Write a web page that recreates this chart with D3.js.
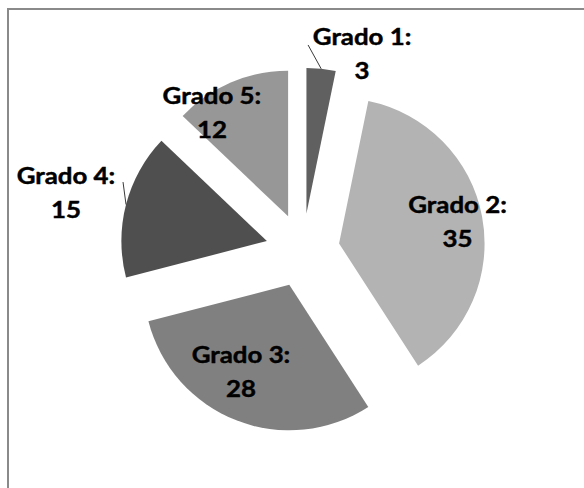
<!DOCTYPE html>
<html>
<head>
<meta charset="utf-8">
<script src="https://cdn.jsdelivr.net/npm/d3@7"></script>
<style>
  html, body { margin: 0; padding: 0; background: #fff; }
  svg { display: block; }
</style>
</head>
<body>
<svg id="chart" width="584" height="488"></svg>
<script>
// ---- data ----
const categories = ["Grado 1", "Grado 2", "Grado 3", "Grado 4", "Grado 5"];
const values = [3, 35, 28, 15, 12];
const colors = ["#606060", "#b3b3b3", "#808080", "#4f4f4f", "#979797"];

// ---- layout (label placement relative to pie centre: angle in degrees, distance in px) ----
const labelAngles = [16.8, 79.5, 206.9, 283.8, 326.7];
const labelDists = [205.5, 157.5, 136.4, 243.8, 165.4];
const leaderStart = { 0: [1.5, 205.4], 3: [290.8, 192.2] };

const W = 584, H = 488;
const cx = 302.7, cy = 250.3, R = 145.5, explode = 37;

const svg = d3.select("#chart");

// frame (cropped at the right / bottom)
svg.append("path")
  .attr("d", `M${W + 5},9 H8 V${H + 5}`)
  .attr("fill", "none")
  .attr("stroke", "#8a8a8a")
  .attr("stroke-width", 2);

const pie = d3.pie().sort(null).value(d => d.value);
const data = categories.map((c, i) => ({ name: c, value: values[i], color: colors[i] }));
const arcs = pie(data);
const arc = d3.arc().innerRadius(0).outerRadius(R);

const g = svg.append("g").attr("transform", `translate(${cx},${cy})`);

function polar(angDeg, dist) {
  const a = angDeg * Math.PI / 180;
  return [Math.sin(a) * dist, -Math.cos(a) * dist];
}

arcs.forEach((a, i) => {
  const mid = (a.startAngle + a.endAngle) / 2;
  const ox = Math.sin(mid) * explode, oy = -Math.cos(mid) * explode;
  g.append("path")
    .attr("d", arc(a))
    .attr("transform", `translate(${ox},${oy})`)
    .attr("fill", a.data.color);

  if (leaderStart[i]) {
    const [sx, sy] = polar(leaderStart[i][0], leaderStart[i][1]);
    const ex = ox + Math.sin(mid) * R, ey = oy - Math.cos(mid) * R;
    g.append("line")
      .attr("x1", sx).attr("y1", sy)
      .attr("x2", ex).attr("y2", ey)
      .attr("stroke", "#3a3a3a").attr("stroke-width", 1);
  }
});

const fontSize = 23.5, lineGap = 34, stretch = 1.1;
arcs.forEach((a, i) => {
  const [lx, ly] = polar(labelAngles[i], labelDists[i]);
  const t = g.append("text")
    .attr("transform", `translate(${lx},${ly}) scale(${stretch},1)`)
    .attr("text-anchor", "middle")
    .attr("font-family", "Lato, 'Open Sans', sans-serif")
    .attr("font-weight", "bold")
    .attr("font-size", fontSize)
    .attr("fill", "#000")
    .attr("stroke", "#000")
    .attr("stroke-width", 0.45);
  t.append("tspan").attr("x", 0).attr("dy", -lineGap / 2 + fontSize * 0.36).text(a.data.name + ":");
  t.append("tspan").attr("x", 0).attr("dy", lineGap).text(a.data.value);
});
</script>
</body>
</html>
